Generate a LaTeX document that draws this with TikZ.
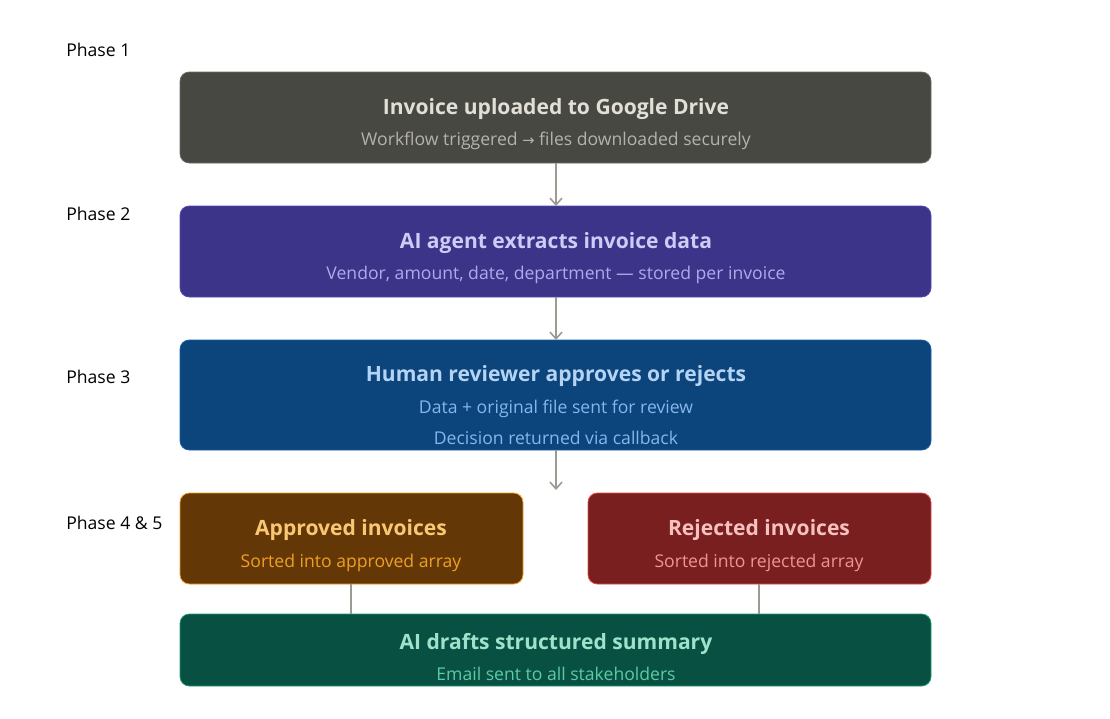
\documentclass[tikz,border=0pt]{standalone}
\usepackage{fontspec}
\setmainfont{Open Sans}
\usetikzlibrary{arrows.meta}
\definecolor{gbox}{HTML}{484843}\definecolor{gbord}{HTML}{6A6964}\definecolor{gtit}{HTML}{E2DFD6}\definecolor{gsub}{HTML}{B4B2A9}
\definecolor{pbox}{HTML}{3C3489}\definecolor{pbord}{HTML}{534AB7}\definecolor{ptit}{HTML}{CECBF6}\definecolor{psub}{HTML}{AFA9EC}
\definecolor{bbox}{HTML}{0C447C}\definecolor{bbord}{HTML}{185FA5}\definecolor{btit}{HTML}{B5D4F4}\definecolor{bsub}{HTML}{85B7EB}
\definecolor{abox}{HTML}{633806}\definecolor{abord}{HTML}{EF9F27}\definecolor{atit}{HTML}{FAC775}\definecolor{asub}{HTML}{EF9F27}
\definecolor{rbox}{HTML}{791F1F}\definecolor{rbord}{HTML}{E24B4A}\definecolor{rtit}{HTML}{F7C1C1}\definecolor{rsub}{HTML}{F09595}
\definecolor{ebox}{HTML}{085041}\definecolor{ebord}{HTML}{1D9E75}\definecolor{etit}{HTML}{9FE1CB}\definecolor{esub}{HTML}{5DCAA5}
\definecolor{conn}{HTML}{9C9A92}
\tikzset{
  x=0.75pt,y=-0.75pt,
  card/.style={rounded corners=7pt,line width=0.6pt},
  tit/.style={font=\fontsize{15.8}{18}\selectfont\bfseries,anchor=center,inner sep=0pt},
  sub/.style={font=\fontsize{13.2}{15}\selectfont,anchor=center,inner sep=0pt},
  phase/.style={font=\fontsize{13.2}{15}\selectfont,anchor=west,inner sep=0pt,text=black},
  conn/.style={draw=conn,line width=1.2pt},
  arr/.style={conn,-{Straight Barb[length=5pt,width=9pt,line width=1.2pt]}},
}
\begin{document}
\begin{tikzpicture}
\useasboundingbox[fill=white] (0,0) rectangle (1110,718);
% boxes
\draw[card,fill=gbox,draw=gbord] (180,72) rectangle (931,163);
\coordinate (b1t) at (556,163);
\draw[card,fill=pbox,draw=pbord] (180,206) rectangle (931,297);
\coordinate (b2t) at (556,206); \coordinate (b2b) at (556,297);
\draw[card,fill=bbox,draw=bbord] (180,340) rectangle (931,450);
\coordinate (b3t) at (556,340); \coordinate (b3b) at (556,450);
\coordinate (gap) at (556,490);
\draw[card,fill=abox,draw=abord] (180,493) rectangle (523,584);
\coordinate (ab) at (351,584);
\draw[card,fill=rbox,draw=rbord] (588,493) rectangle (931,584);
\coordinate (rb) at (759,584);
\draw[card,fill=ebox,draw=ebord] (180,614) rectangle (931,686);
\coordinate (eat) at (351,614); \coordinate (ert) at (759,614);
% texts
\node[tit,text=gtit] (t1) at (556,109) {Invoice uploaded to Google Drive};
\node[sub,text=gsub] (s1) at (556,141) {Workflow triggered {\fontspec{DejaVu Sans}\fontsize{11}{12}\selectfont →} files downloaded securely};
\node[tit,text=ptit] (t2) at (556,243) {AI agent extracts invoice data};
\node[sub,text=psub] (s2) at (556,275) {Vendor, amount, date, department — stored per invoice};
\node[tit,text=btit] (t3) at (556,376) {Human reviewer approves or rejects};
\node[sub,text=bsub] (s3a) at (556,409) {Data + original file sent for review};
\node[sub,text=bsub] (s3b) at (556,438) {Decision returned via callback};
\node[tit,text=atit] (t4) at (351,530) {Approved invoices};
\node[sub,text=asub] (s4) at (351,563) {Sorted into approved array};
\node[tit,text=rtit] (t5) at (759,530) {Rejected invoices};
\node[sub,text=rsub] (s5) at (759,563) {Sorted into rejected array};
\node[tit,text=etit] (t6) at (556,644) {AI drafts structured summary};
\node[sub,text=esub] (s6) at (556,674) {Email sent to all stakeholders};
% phases
\node[phase] (p1) at (66,50) {Phase 1};
\node[phase] (p2) at (66,214) {Phase 2};
\node[phase] (p3) at (66,377) {Phase 3};
\node[phase] (p4) at (66,523) {Phase 4 \& 5};
% connectors
\draw[arr] (b1t) -- (b2t);
\draw[arr] (b2b) -- (b3t);
\draw[arr] (b3b) -- (gap);
\draw[conn] (ab) -- (eat);
\draw[conn] (rb) -- (ert);
\end{tikzpicture}
\end{document}
